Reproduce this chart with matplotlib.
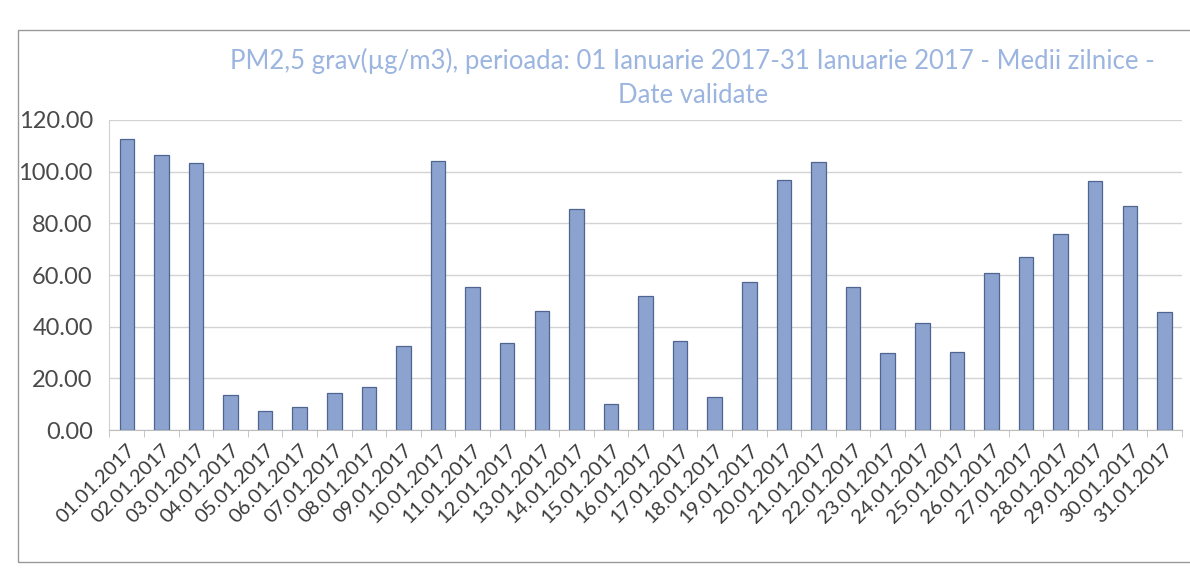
import matplotlib
matplotlib.use("Agg")
import matplotlib.pyplot as plt
from matplotlib.patches import Rectangle
from matplotlib.ticker import FixedLocator

# ---- data ----
dates = ["01.01.2017", "02.01.2017", "03.01.2017", "04.01.2017", "05.01.2017",
         "06.01.2017", "07.01.2017", "08.01.2017", "09.01.2017", "10.01.2017",
         "11.01.2017", "12.01.2017", "13.01.2017", "14.01.2017", "15.01.2017",
         "16.01.2017", "17.01.2017", "18.01.2017", "19.01.2017", "20.01.2017",
         "21.01.2017", "22.01.2017", "23.01.2017", "24.01.2017", "25.01.2017",
         "26.01.2017", "27.01.2017", "28.01.2017", "29.01.2017", "30.01.2017",
         "31.01.2017"]
pm25 = [112.5, 106.3, 103.5, 13.8, 7.4, 9.0, 14.3, 16.6, 32.4, 104.0,
        55.2, 33.9, 46.0, 85.5, 10.3, 51.8, 34.6, 13.0, 57.4, 96.9,
        103.6, 55.2, 30.0, 41.6, 30.4, 60.8, 66.8, 76.0, 96.5, 86.7,
        45.6]
y_ticks = [0, 20, 40, 60, 80, 100, 120]
title_text = ("PM2,5 grav(µg/m3), perioada: 01 Ianuarie 2017-31 Ianuarie 2017 - Medii zilnice -\n"
              "Date validate")

plt.rcParams['font.family'] = ['Lato', 'DejaVu Sans']

fig = plt.figure(figsize=(11.9, 5.79), dpi=100)
fig.patch.set_facecolor('white')

# chart-area border
fig.patches.append(Rectangle((0.015, 0.03), 0.99, 0.918, transform=fig.transFigure,
                             fill=False, edgecolor='#9a9a9a', linewidth=1.0))

ax = fig.add_axes([0.092, 0.257, 0.901, 0.536])
x = list(range(len(dates)))
ax.bar(x, pm25, width=0.42, color='#8CA3CF', edgecolor='#4F6590', linewidth=0.9, zorder=3)

ax.set_xlim(-0.5, len(dates) - 0.5)
ax.set_ylim(0, 120)
ax.set_yticks(y_ticks)
ax.set_yticklabels([f"{v:.2f}" for v in y_ticks], fontsize=17, color='#4a4a4a')
ax.grid(axis='y', color='#d3d3d3', linewidth=1.0, zorder=0)
ax.set_xticks(x)
ax.set_xticklabels(dates, rotation=45, ha='right', rotation_mode='anchor',
                   fontsize=14.5, color='#3a3a3a')
ax.tick_params(axis='x', length=0, pad=8)
ax.tick_params(axis='y', length=0, pad=12)
ax.xaxis.set_minor_locator(FixedLocator([i - 0.5 for i in range(len(dates) + 1)]))
ax.tick_params(axis='x', which='minor', length=5, color='#bdbdbd', direction='out')

for s in ['top', 'right']:
    ax.spines[s].set_visible(False)
ax.spines['left'].set_color('#d0d0d0')
ax.spines['bottom'].set_color('#bdbdbd')

fig.text(0.582, 0.865, title_text, ha='center', va='center', fontsize=18.5,
         color='#9BB5E0', linespacing=1.45)

fig.savefig("out.png", dpi=100)
